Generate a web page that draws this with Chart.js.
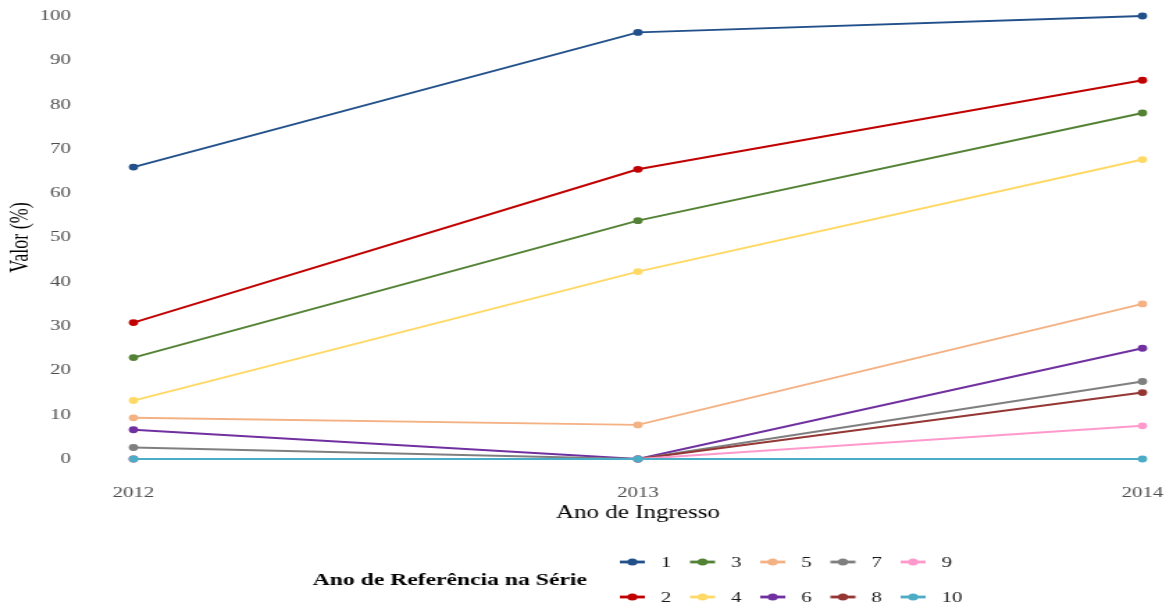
<!DOCTYPE html>
<html>
<head>
<meta charset="utf-8">
<script src="https://cdn.jsdelivr.net/npm/chart.js@4"></script>
<style>
  html, body { margin: 0; padding: 0; background: #fff; overflow: hidden; }
  /* the reference is stretched horizontally, so draw narrow and scale x */
  #wrap { width: 844px; height: 609px; transform: scaleX(1.38981); transform-origin: 0 0; }
</style>
</head>
<body>
<div id="wrap"><canvas id="grafico"></canvas></div>
<script>
const anos = ['2012', '2013', '2014'];
const series = ['1', '2', '3', '4', '5', '6', '7', '8', '9', '10'];
const cores = ['#22508A', '#C00000', '#548235', '#FFD966', '#F4B183',
               '#7030A0', '#7F7F7F', '#943634', '#FF99CC', '#4BACC6'];

const s1 = [65.9, 96.3, 100];
const s2 = [30.8, 65.4, 85.5];
const s3 = [22.9, 53.8, 78.1];
const s4 = [13.2, 42.3, 67.6];
const s5 = [9.3, 7.7, 35.0];
const s6 = [6.6, 0, 25.0];
const s7 = [2.6, 0, 17.5];
const s8 = [0, 0, 15.0];
const s9 = [0, 0, 7.5];
const s10 = [0, 0, 0];
const valores = [s1, s2, s3, s4, s5, s6, s7, s8, s9, s10];

const fonte = 'Liberation Serif';

const datasets = series.map(function(nome, i) {
    return {
        label: nome,
        data: valores[i],
        borderColor: cores[i],
        backgroundColor: cores[i],
        pointBackgroundColor: cores[i],
        pointBorderColor: cores[i],
        borderWidth: 1.9,
        pointRadius: 3.4,
        pointBorderWidth: 0,
        tension: 0,
        clip: false,
        order: series.length - i
    };
});

// legend drawn by hand: title on the left, two rows of keys
const legendaSerie = {
    id: 'legendaSerie',
    afterDraw: function(chart) {
        const ctx = chart.ctx;
        ctx.save();
        ctx.fillStyle = '#000';
        ctx.textBaseline = 'middle';
        ctx.textAlign = 'left';
        ctx.font = 'bold 17px "' + fonte + '"';
        ctx.fillText('Ano de Referência na Série', 225, 581);
        ctx.font = '15px "' + fonte + '"';
        series.forEach(function(nome, i) {
            const col = Math.floor(i / 2);
            const y = i % 2 === 0 ? 562 : 597;
            const x0 = 446 + col * 50.5;
            ctx.strokeStyle = cores[i];
            ctx.lineWidth = 2.8;
            ctx.beginPath();
            ctx.moveTo(x0, y);
            ctx.lineTo(x0 + 18, y);
            ctx.stroke();
            ctx.fillStyle = cores[i];
            ctx.beginPath();
            ctx.arc(x0 + 9, y, 3.6, 0, Math.PI * 2);
            ctx.fill();
            ctx.fillStyle = '#1a1a1a';
            ctx.fillText(nome, x0 + 29.5, y + 1);
        });
        ctx.restore();
    }
};

const ctx = document.getElementById('grafico').getContext('2d');
new Chart(ctx, {
    type: 'line',
    data: { labels: anos, datasets: datasets },
    plugins: [legendaSerie],
    options: {
        responsive: true,
        maintainAspectRatio: false,
        animation: false,
        layout: { padding: { left: 4, right: 22, top: 16, bottom: 85 } },
        plugins: {
            legend: { display: false },
            tooltip: { enabled: false }
        },
        scales: {
            x: {
                offset: false,
                grid: { display: false, drawTicks: false },
                border: { display: false },
                ticks: { color: '#4d4d4d', font: { family: fonte, size: 15 }, padding: 25, maxRotation: 0 },
                title: { display: true, text: 'Ano de Ingresso', color: '#000', font: { family: fonte, size: 18 }, padding: 0 },
                afterFit: function(s) {
                    s.height = 65;
                    s.paddingLeft = 0;
                    s.paddingRight = 0;
                }
            },
            y: {
                min: 0,
                max: 100,
                grid: { display: false, drawTicks: false },
                border: { display: false },
                ticks: { stepSize: 10, color: '#4d4d4d', font: { family: fonte, size: 15 }, padding: 45 },
                title: { display: true, text: 'Valor (%)', color: '#000', font: { family: fonte, size: 18 }, padding: 0 },
                afterFit: function(s) {
                    s.width = 92;
                    s.paddingTop = 0;
                    s.paddingBottom = 0;
                }
            }
        }
    }
});
</script>
</body>
</html>
